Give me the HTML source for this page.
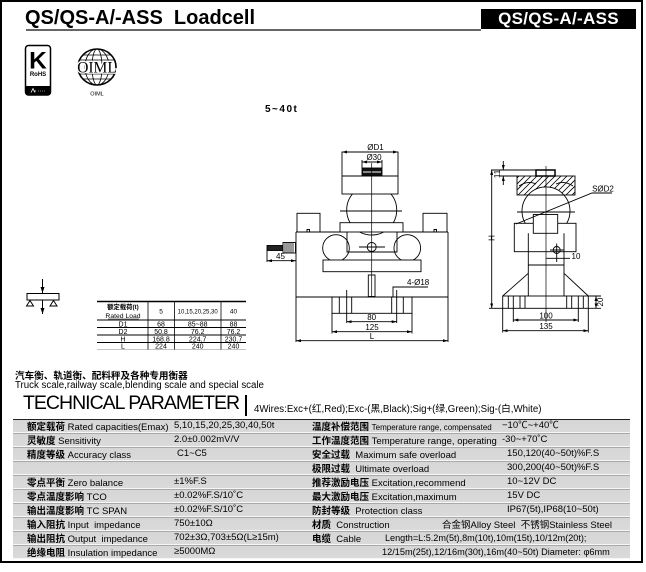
<!DOCTYPE html>
<html><head><meta charset="utf-8">
<style>
*{margin:0;padding:0;box-sizing:border-box}
html,body{width:646px;height:572px;background:#fff;overflow:hidden}
body{position:relative;font-family:"Liberation Sans","Noto Sans CJK SC",sans-serif;color:#000}
.a{position:absolute;white-space:nowrap}
.frame{position:absolute;left:0;top:0;width:643px;height:563px;border:2px solid #000}
.row{position:absolute;left:13px;width:617px;height:14px;background:linear-gradient(#a9a9a9 0,#a9a9a9 1px,#d6d6d6 1px,#dadada 13px,#f6f6f6 13px)}
.t{position:absolute;white-space:nowrap;font-size:9.5px;line-height:14px;height:14px}
.t b{font-weight:bold;font-family:"Noto Sans CJK SC","WenQuanYi Zen Hei",sans-serif}
</style></head><body>
<div class="frame"></div>

<!-- header -->
<div class="a" style="left:25px;top:8px;font-size:20px;line-height:20px;font-weight:bold">QS/QS-A/-ASS&nbsp;&nbsp;Loadcell</div>
<div class="a" style="left:26px;top:29px;width:455px;height:1.5px;background:#666"></div>
<div class="a" style="left:481px;top:9px;width:155px;height:19.5px;background:#000"></div>
<div class="a" style="left:481px;top:10px;width:155px;text-align:center;color:#fff;font-size:17px;line-height:17px;font-weight:bold;letter-spacing:0.3px">QS/QS-A/-ASS</div>

<!-- 5~40t -->
<div class="a" style="left:265px;top:104px;font-size:10px;line-height:12px;font-weight:bold;letter-spacing:1.5px">5~40t</div>

<!-- subtitles -->
<div class="a" style="left:15px;top:369px;font-size:9.6px;line-height:12px;font-weight:bold;font-family:'Noto Sans CJK SC',sans-serif">汽车衡、轨道衡、配料秤及各种专用衡器</div>
<div class="a" style="left:15px;top:380px;font-size:9.7px;line-height:12px">Truck scale,railway scale,blending scale and special scale</div>
<div class="a" style="left:23px;top:393.5px;font-size:19.5px;line-height:19.5px;letter-spacing:-1px">TECHNICAL PARAMETER</div>
<div class="a" style="left:245px;top:395px;width:2px;height:21px;background:#000"></div>
<div class="a" style="left:254px;top:405px;font-size:9.7px;line-height:10px">4Wires:Exc+(红,Red);Exc-(黑,Black);Sig+(绿,Green);Sig-(白,White)</div>

<!-- table rows -->
<div class="row" style="top:419px;background:linear-gradient(#222 0,#222 1px,#d6d6d6 1px,#dadada 13px,#f6f6f6 13px)"></div>
<div class="row" style="top:433px"></div>
<div class="row" style="top:447px"></div>
<div class="row" style="top:461px"></div>
<div class="row" style="top:475px"></div>
<div class="row" style="top:489px"></div>
<div class="row" style="top:503px"></div>
<div class="row" style="top:517px"></div>
<div class="row" style="top:531px"></div>
<div class="row" style="top:545px"></div>

<!-- left labels -->
<div class="t" style="left:27px;top:419px"><b>额定载荷</b> Rated capacities(Emax)</div>
<div class="t" style="left:27px;top:433px"><b>灵敏度</b> Sensitivity</div>
<div class="t" style="left:27px;top:447px"><b>精度等级</b> Accuracy class</div>
<div class="t" style="left:27px;top:475px"><b>零点平衡</b> Zero balance</div>
<div class="t" style="left:27px;top:489px"><b>零点温度影响</b> TCO</div>
<div class="t" style="left:27px;top:503px"><b>输出温度影响</b> TC SPAN</div>
<div class="t" style="left:27px;top:517px"><b>输入阻抗</b> Input&nbsp; impedance</div>
<div class="t" style="left:27px;top:531px"><b>输出阻抗</b> Output&nbsp; impedance</div>
<div class="t" style="left:27px;top:545px"><b>绝缘电阻</b> Insulation impedance</div>

<!-- left values -->
<div class="t" style="left:174px;top:419px">5,10,15,20,25,30,40,50t</div>
<div class="t" style="left:174px;top:433px">2.0±0.002mV/V</div>
<div class="t" style="left:177px;top:447px">C1~C5</div>
<div class="t" style="left:174px;top:475px">±1%F.S</div>
<div class="t" style="left:174px;top:489px">±0.02%F.S/10˚C</div>
<div class="t" style="left:174px;top:503px">±0.02%F.S/10˚C</div>
<div class="t" style="left:174px;top:517px">750±10Ω</div>
<div class="t" style="left:174px;top:531px">702±3Ω,703±5Ω(L≥15m)</div>
<div class="t" style="left:174px;top:545px">≥5000MΩ</div>

<!-- right labels -->
<div class="t" style="left:312px;top:419px"><b>温度补偿范围</b> <span style="font-size:8px">Temperature range, compensated</span></div>
<div class="t" style="left:312px;top:433px"><b>工作温度范围</b> Temperature range, operating</div>
<div class="t" style="left:312px;top:447px"><b>安全过载</b>&nbsp; Maximum safe overload</div>
<div class="t" style="left:312px;top:461px"><b>极限过载</b>&nbsp; Ultimate overload</div>
<div class="t" style="left:312px;top:475px"><b>推荐激励电压</b> Excitation,recommend</div>
<div class="t" style="left:312px;top:489px"><b>最大激励电压</b> Excitation,maximum</div>
<div class="t" style="left:312px;top:503px"><b>防封等级</b>&nbsp; Protection class</div>
<div class="t" style="left:312px;top:517px"><b>材质</b>&nbsp; Construction</div>
<div class="t" style="left:312px;top:531px"><b>电缆</b>&nbsp; Cable</div>

<!-- right values -->
<div class="t" style="left:502px;top:419px">−10℃~+40℃</div>
<div class="t" style="left:502px;top:433px">-30~+70˚C</div>
<div class="t" style="left:507px;top:447px">150,120(40~50t)%F.S</div>
<div class="t" style="left:507px;top:461px">300,200(40~50t)%F.S</div>
<div class="t" style="left:507px;top:475px">10~12V DC</div>
<div class="t" style="left:507px;top:489px">15V DC</div>
<div class="t" style="left:507px;top:503px">IP67(5t),IP68(10~50t)</div>
<div class="t" style="left:442px;top:517px"><b style="font-weight:normal">合金钢</b>Alloy Steel&nbsp; <b style="font-weight:normal">不锈钢</b>Stainless Steel</div>
<div class="t" style="left:385px;top:531px;font-size:9.1px">Length=L:5.2m(5t),8m(10t),10m(15t),10/12m(20t);</div>
<div class="t" style="left:382px;top:545px;font-size:9.2px">12/15m(25t),12/16m(30t),16m(40~50t) Diameter: φ6mm</div>

<svg class="a" style="left:0;top:0" width="646" height="572" viewBox="0 0 646 572">
<defs>
<marker id="m" viewBox="0 0 5 3" refX="5" refY="1.5" markerWidth="5" markerHeight="3" markerUnits="userSpaceOnUse" orient="auto-start-reverse"><path d="M0,0L5,1.5L0,3z" fill="#000"/></marker>
<marker id="mb" viewBox="0 0 6 4" refX="6" refY="2" markerWidth="6" markerHeight="5" markerUnits="userSpaceOnUse" orient="auto-start-reverse"><path d="M0,0L6,2L0,4z" fill="#000"/></marker>
<clipPath id="cc"><rect x="517" y="176" width="58" height="19"/></clipPath>
<clipPath id="gc"><ellipse cx="97" cy="67" rx="19" ry="18"/></clipPath>
</defs>

<!-- RoHS logo -->
<rect x="25.5" y="45.5" width="25" height="49.5" rx="3" fill="#fff" stroke="#000" stroke-width="1.5"/>
<path d="M25.5,86 H50.5 V92 Q50.5,95 47.5,95 H28.5 Q25.5,95 25.5,92 Z" fill="#000"/>
<path d="M31,92.5 L33,88.5 L35,92.5 M33.5,91 H36" stroke="#fff" stroke-width="0.8" fill="none"/>
<line x1="38" y1="91" x2="45" y2="91" stroke="#fff" stroke-width="0.6" stroke-dasharray="1 1"/>
<text x="38" y="68.5" font-size="24.5" font-weight="bold" text-anchor="middle" font-family="Liberation Sans,sans-serif">K</text>
<text x="38" y="76" font-size="6" font-weight="bold" text-anchor="middle" font-family="Liberation Sans,sans-serif">RoHS</text>

<!-- OIML logo -->
<g fill="none" stroke="#000" stroke-width="0.8">
<ellipse cx="97" cy="67" rx="19" ry="18" stroke-width="1.6"/>
<ellipse cx="97" cy="67" rx="12" ry="18"/>
<ellipse cx="97" cy="67" rx="5" ry="18"/>
<g clip-path="url(#gc)">
<line x1="76" y1="55" x2="118" y2="55"/><line x1="76" y1="60" x2="118" y2="60"/>
<line x1="76" y1="74" x2="118" y2="74"/><line x1="76" y1="79" x2="118" y2="79"/>
</g>
</g>
<text x="97" y="72.5" font-size="15.5" text-anchor="middle" font-family="Liberation Serif,serif" stroke="#fff" stroke-width="2.5" paint-order="stroke" fill="#000">OIML</text>
<text x="97" y="95.5" font-size="5.5" text-anchor="middle" font-family="Liberation Sans,sans-serif">OIML</text>

<!-- load icon -->
<g fill="none" stroke="#000" stroke-width="1">
<rect x="27" y="293.5" width="32" height="6.5"/>
<line x1="42.5" y1="279" x2="42.5" y2="293" marker-end="url(#mb)"/>
<line x1="42.5" y1="300" x2="42.5" y2="314" marker-end="url(#mb)"/>
<path d="M30,300.5 L26.5,306 L33.5,306 Z M53.5,300.5 L50,306 L57,306 Z"/>
</g>

<!-- dimension table -->
<g stroke="#000" fill="none">
<line x1="97" y1="301.5" x2="246" y2="301.5" stroke-width="1.5"/>
<line x1="97" y1="320" x2="246" y2="320" stroke-width="0.9"/>
<line x1="97" y1="327.5" x2="246" y2="327.5" stroke-width="0.9"/>
<line x1="97" y1="335" x2="246" y2="335" stroke-width="0.9"/>
<line x1="97" y1="342.5" x2="246" y2="342.5" stroke-width="0.9"/>
<line x1="97" y1="349.5" x2="246" y2="349.5" stroke-width="0.6" stroke="#888"/>
<line x1="148" y1="301.5" x2="148" y2="349.5" stroke-width="0.8"/>
<line x1="174.5" y1="301.5" x2="174.5" y2="349.5" stroke-width="0.8"/>
<line x1="221" y1="301.5" x2="221" y2="349.5" stroke-width="0.8"/>
<line x1="108" y1="319" x2="139" y2="319" stroke-width="0.6"/>
</g>
<g font-family="Liberation Sans,Noto Sans CJK SC,sans-serif" text-anchor="middle" fill="#000">
<text x="123" y="309" font-size="6.3" font-weight="bold">额定载荷(t)</text>
<text x="123" y="318" font-size="6.8">Rated Load</text>
<text x="161" y="313.5" font-size="6.5">5</text>
<text x="197.7" y="313.5" font-size="6">10,15,20,25,30</text>
<text x="233.5" y="313.5" font-size="6.5">40</text>
<g font-size="7">
<text x="123" y="326.3">D1</text><text x="161" y="326.3">68</text><text x="197.7" y="326.3">85~88</text><text x="233.5" y="326.3">88</text>
<text x="123" y="333.8">D2</text><text x="161" y="333.8">50.8</text><text x="197.7" y="333.8">76.2</text><text x="233.5" y="333.8">76.2</text>
<text x="123" y="341.3">H</text><text x="161" y="341.3">168.8</text><text x="197.7" y="341.3">224.7</text><text x="233.5" y="341.3">230.7</text>
<text x="123" y="348.6">L</text><text x="161" y="348.6">224</text><text x="197.7" y="348.6">240</text><text x="233.5" y="348.6">240</text>
</g>
</g>

<!-- FRONT VIEW -->
<g fill="none" stroke="#000" stroke-width="0.9">
<circle cx="336" cy="248" r="13.3"/>
<circle cx="407.3" cy="248" r="13.3"/>
<circle cx="371.7" cy="210" r="25"/>
<line x1="340" y1="211" x2="402" y2="211"/>
<rect x="342" y="152" width="56" height="42" fill="#fff"/>
<line x1="342" y1="176" x2="398" y2="176"/>
<rect x="362" y="168" width="20" height="8" fill="#111"/>
<line x1="363" y1="172" x2="381" y2="172" stroke="#fff" stroke-width="1"/>
<line x1="342" y1="152" x2="398" y2="152" marker-start="url(#m)" marker-end="url(#m)"/>
<line x1="362" y1="160" x2="362" y2="168"/><line x1="382" y1="160" x2="382" y2="168"/>
<line x1="362" y1="162" x2="382" y2="162" marker-start="url(#m)" marker-end="url(#m)"/>
<rect x="297" y="213.3" width="23" height="18.7"/>
<rect x="423" y="213.3" width="24" height="18.7"/>
<path d="M307,232 v-2.5 h2.5 v2.5 M434,232 v-2.5 h2.5 v2.5"/>
<line x1="296" y1="232" x2="347" y2="232"/>
<line x1="397" y1="232" x2="448" y2="232"/>
<line x1="296" y1="232" x2="296" y2="342"/>
<line x1="448" y1="232" x2="448" y2="342"/>
<line x1="296" y1="297" x2="448" y2="297"/>
<rect x="340" y="222.7" width="63" height="9.3" fill="#fff"/>
<path d="M347,232 V252 H397 V232"/>
<rect x="323" y="260" width="98" height="11.7" fill="#fff"/>
<rect x="368.3" y="275" width="6.7" height="21.5"/>
<circle cx="371.7" cy="247" r="4.5"/>
<line x1="359" y1="247" x2="385" y2="247"/>
<line x1="371.7" y1="163" x2="371.7" y2="297" stroke-width="0.7"/>
<rect x="332" y="297" width="80" height="16.3"/>
<path d="M339.3,297 V313.3 M346.7,290 V323 M351.7,297 V313.3 M391.7,297 V313.3 M396.7,290 V323 M403.3,297 V313.3"/>
<path d="M393,297 V287 H428"/>
<line x1="346.7" y1="321.7" x2="396.7" y2="321.7" marker-start="url(#m)" marker-end="url(#m)"/>
<path d="M332,313 V333.5 M412,313 V333.5"/>
<line x1="332" y1="331.7" x2="412" y2="331.7" marker-start="url(#m)" marker-end="url(#m)"/>
<line x1="296" y1="340.7" x2="448" y2="340.7" marker-start="url(#m)" marker-end="url(#m)"/>
<rect x="267" y="245.5" width="16" height="5" fill="#222"/>
<rect x="283" y="242.5" width="12.5" height="10.5" fill="#fff"/>
<path d="M285,242.5 V253 M287,242.5 V253 M289,242.5 V253 M291,242.5 V253 M293,242.5 V253" stroke-width="0.8"/>
<line x1="267" y1="250" x2="267" y2="262"/>
<line x1="267" y1="260.7" x2="296" y2="260.7" marker-start="url(#m)" marker-end="url(#m)"/>
</g>
<g font-family="Liberation Sans,sans-serif" font-size="8" text-anchor="middle" fill="#000">
<text x="375.5" y="150">ØD1</text>
<text x="374" y="160">Ø30</text>
<text x="280.5" y="259">45</text>
<text x="407" y="285" text-anchor="start">4-Ø18</text>
<text x="371.7" y="320">80</text>
<text x="372" y="330">125</text>
<text x="372" y="339">L</text>
</g>

<!-- SIDE VIEW -->
<g fill="none" stroke="#000" stroke-width="0.9">
<circle cx="546" cy="211" r="24"/>
<line x1="517" y1="212" x2="575" y2="212"/>
<rect x="517" y="176" width="58" height="19" fill="#fff"/>
<g clip-path="url(#cc)" stroke-width="0.8">
<path d="M500,195 L519,176 M506,195 L525,176 M512,195 L531,176 M518,195 L537,176 M524,195 L543,176 M530,195 L549,176 M536,195 L555,176 M542,195 L561,176 M548,195 L567,176 M554,195 L573,176 M560,195 L579,176 M566,195 L585,176 M572,195 L591,176"/>
</g>
<path d="M528.1,195 A24,24 0 0 1 563.9,195 Z" fill="#fff"/>
<path d="M519,186 Q528,180 536,184 M556,184 Q564,180 573,186"/>
<rect x="536" y="170" width="19" height="6" fill="#fff" stroke-width="1.5"/>
<rect x="514.3" y="223.3" width="61.7" height="28.4" fill="#fff"/>
<rect x="533.3" y="214.5" width="24.4" height="18.8" fill="#fff"/>
<path d="M528.3,233.3 V296 M564,233.3 V296 M528.3,265 H564"/>
<path d="M528.3,273.3 L502.7,296 M564,273.3 L588.3,296"/>
<rect x="502.7" y="296" width="85.6" height="12.3"/>
<path d="M508.3,296 V308.3 M513.3,296 V322 M520,296 V308.3 M525,296 V308.3 M566.7,296 V308.3 M571.7,296 V308.3 M578.3,296 V322 M583.3,296 V308.3"/>
<line x1="546" y1="166" x2="546" y2="322" stroke-width="0.7"/>
<circle cx="556.7" cy="250" r="3.5"/>
<path d="M550,250 H563.5 M556.7,243.5 V262"/>
<line x1="546" y1="258.3" x2="570" y2="258.3"/>
<path d="M516,224 L592,193 H612"/>
<path d="M491,170 H536 M500,176 H517"/>
<line x1="503.3" y1="161" x2="503.3" y2="170" marker-end="url(#m)"/>
<line x1="503.3" y1="185" x2="503.3" y2="176" marker-end="url(#m)"/>
<line x1="491.7" y1="170" x2="491.7" y2="308.3" marker-start="url(#m)" marker-end="url(#m)"/>
<line x1="489" y1="308.3" x2="503" y2="308.3"/>
<path d="M588.3,296 H601 M588.3,308.3 H601"/>
<line x1="596" y1="296" x2="596" y2="308.3" marker-start="url(#m)" marker-end="url(#m)"/>
<line x1="513.3" y1="320" x2="578.3" y2="320" marker-start="url(#m)" marker-end="url(#m)"/>
<path d="M502.7,308.3 V332.5 M588.3,308.3 V332.5"/>
<line x1="502.7" y1="330.7" x2="588.3" y2="330.7" marker-start="url(#m)" marker-end="url(#m)"/>
</g>
<g font-family="Liberation Sans,sans-serif" font-size="8" text-anchor="middle" fill="#000">
<text x="603" y="191.5">SØD2</text>
<text x="576" y="259">10</text>
<text x="546" y="318.5">100</text>
<text x="546" y="329">135</text>
<text transform="translate(500,174) rotate(-90)">11</text>
<text transform="translate(494.5,238) rotate(-90)">H</text>
<text transform="translate(603,302) rotate(-90)">20</text>
</g>
</svg>
</body></html>
